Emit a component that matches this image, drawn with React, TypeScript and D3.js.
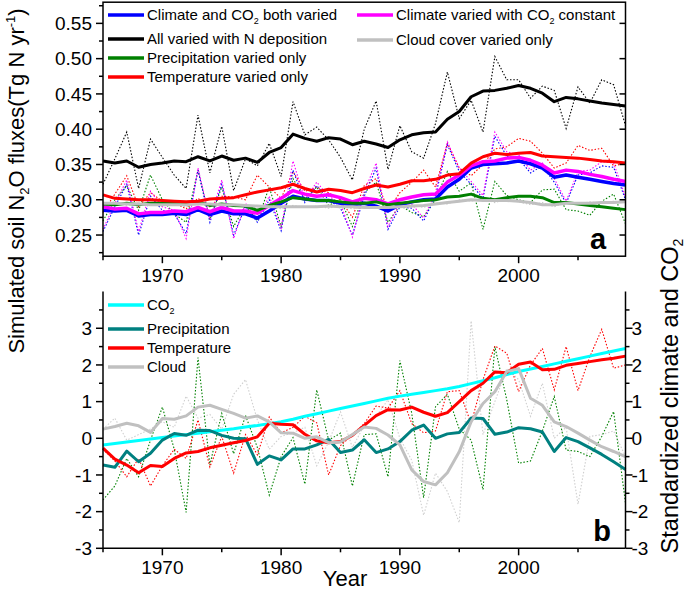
import React from "react";
import * as d3 from "d3";

// ---- data ----
const years = d3.range(1965, 2010);

// panel a: simulated soil N2O fluxes (Tg N / yr), solid = smoothed, dotted = annual
const allNDepSmooth = [0.355,0.352,0.355,0.346,0.350,0.352,0.355,0.354,0.361,0.355,0.362,0.356,0.359,0.353,0.367,0.374,0.393,0.387,0.383,0.388,0.386,0.378,0.383,0.379,0.374,0.385,0.392,0.395,0.396,0.414,0.425,0.446,0.454,0.455,0.458,0.462,0.458,0.451,0.439,0.445,0.443,0.440,0.437,0.435,0.433];
const allNDepAnnual = [0.322,0.358,0.396,0.316,0.386,0.360,0.335,0.316,0.420,0.338,0.404,0.313,0.358,0.348,0.380,0.333,0.439,0.392,0.403,0.385,0.360,0.328,0.400,0.440,0.343,0.405,0.368,0.359,0.408,0.481,0.415,0.441,0.396,0.503,0.470,0.470,0.444,0.461,0.455,0.401,0.460,0.437,0.470,0.463,0.405];
const tempSmooth = [0.307,0.302,0.301,0.300,0.300,0.299,0.298,0.297,0.298,0.301,0.302,0.303,0.307,0.311,0.314,0.317,0.322,0.316,0.311,0.315,0.313,0.310,0.316,0.321,0.318,0.322,0.327,0.327,0.329,0.335,0.337,0.352,0.361,0.366,0.364,0.366,0.367,0.362,0.361,0.360,0.359,0.357,0.355,0.354,0.352];
const tempAnnual = [0.282,0.308,0.334,0.290,0.310,0.298,0.296,0.287,0.302,0.290,0.305,0.304,0.300,0.335,0.318,0.302,0.340,0.312,0.318,0.310,0.300,0.275,0.320,0.330,0.285,0.310,0.325,0.342,0.318,0.380,0.345,0.334,0.350,0.372,0.375,0.387,0.383,0.366,0.345,0.352,0.377,0.370,0.373,0.348,0.352];
const co2ConstSmooth = [0.290,0.287,0.288,0.280,0.282,0.282,0.284,0.283,0.289,0.283,0.289,0.284,0.284,0.281,0.292,0.302,0.313,0.308,0.305,0.307,0.303,0.297,0.302,0.300,0.294,0.300,0.304,0.307,0.308,0.325,0.335,0.348,0.354,0.355,0.359,0.360,0.356,0.349,0.338,0.342,0.340,0.336,0.333,0.329,0.326];
const co2ConstAnnual = [0.258,0.295,0.328,0.255,0.312,0.290,0.285,0.245,0.345,0.272,0.328,0.245,0.295,0.272,0.305,0.260,0.355,0.300,0.325,0.305,0.295,0.247,0.312,0.352,0.262,0.296,0.294,0.274,0.310,0.382,0.345,0.326,0.306,0.396,0.368,0.364,0.342,0.352,0.330,0.298,0.340,0.342,0.354,0.352,0.304];
const bothSmooth = [0.285,0.284,0.285,0.277,0.279,0.279,0.281,0.279,0.286,0.279,0.284,0.280,0.280,0.274,0.284,0.295,0.305,0.301,0.299,0.299,0.295,0.293,0.295,0.291,0.284,0.293,0.297,0.300,0.301,0.318,0.329,0.345,0.350,0.351,0.352,0.355,0.351,0.345,0.332,0.335,0.332,0.329,0.326,0.323,0.321];
const bothAnnual = [0.255,0.290,0.322,0.250,0.305,0.285,0.280,0.252,0.342,0.268,0.322,0.250,0.290,0.268,0.300,0.256,0.342,0.296,0.320,0.300,0.288,0.250,0.305,0.345,0.258,0.290,0.288,0.270,0.305,0.378,0.340,0.322,0.302,0.390,0.362,0.358,0.338,0.348,0.325,0.295,0.335,0.338,0.348,0.346,0.300];
const precipSmooth = [0.294,0.293,0.295,0.293,0.295,0.295,0.296,0.296,0.297,0.292,0.294,0.292,0.291,0.285,0.292,0.297,0.303,0.301,0.299,0.299,0.297,0.295,0.295,0.297,0.293,0.295,0.297,0.299,0.300,0.304,0.305,0.308,0.302,0.300,0.303,0.305,0.305,0.303,0.296,0.296,0.294,0.292,0.290,0.288,0.286];
const precipAnnual = [0.270,0.300,0.320,0.285,0.335,0.300,0.280,0.268,0.342,0.272,0.318,0.262,0.292,0.270,0.318,0.262,0.330,0.300,0.318,0.292,0.300,0.262,0.310,0.325,0.268,0.292,0.282,0.276,0.300,0.340,0.312,0.324,0.258,0.326,0.306,0.300,0.296,0.314,0.315,0.286,0.284,0.278,0.298,0.308,0.266];
const cloudSmooth = [0.295,0.295,0.294,0.294,0.293,0.293,0.293,0.293,0.294,0.294,0.293,0.293,0.292,0.291,0.290,0.290,0.290,0.290,0.290,0.291,0.290,0.290,0.289,0.289,0.289,0.290,0.291,0.292,0.294,0.296,0.298,0.300,0.299,0.299,0.299,0.298,0.296,0.293,0.293,0.295,0.295,0.295,0.296,0.296,0.297];
const cloudAnnual = [0.294,0.297,0.292,0.296,0.293,0.291,0.295,0.290,0.296,0.292,0.294,0.290,0.293,0.288,0.292,0.287,0.292,0.289,0.291,0.288,0.292,0.287,0.290,0.292,0.286,0.290,0.293,0.289,0.296,0.294,0.300,0.298,0.302,0.296,0.301,0.297,0.293,0.296,0.290,0.297,0.294,0.297,0.295,0.298,0.296];

// panel b: standardized climate drivers and CO2
const co2Std = [-0.18,-0.14,-0.10,-0.06,-0.02,0.02,0.06,0.10,0.14,0.18,0.22,0.26,0.31,0.35,0.40,0.45,0.52,0.60,0.67,0.74,0.81,0.88,0.95,1.02,1.09,1.15,1.20,1.25,1.30,1.35,1.41,1.49,1.57,1.65,1.74,1.82,1.89,1.96,2.03,2.10,2.17,2.24,2.31,2.38,2.45];
const precipStd = [-0.73,-0.79,-0.35,-0.64,-0.41,-0.05,0.13,0.08,0.22,0.21,0.08,0.00,-0.01,-0.71,-0.48,-0.59,-0.29,-0.29,-0.18,-0.03,-0.39,-0.32,-0.04,-0.39,-0.29,-0.09,0.22,0.36,0.00,0.12,0.16,0.55,0.54,0.11,0.17,0.29,0.26,0.17,-0.36,0.02,-0.09,-0.26,-0.44,-0.64,-0.85];
const precipStdAnnual = [-1.68,-1.30,-0.55,-1.05,-0.05,0.85,-0.30,-2.02,2.20,-0.73,0.68,-0.42,0.62,-0.25,-1.55,-0.50,0.02,-1.25,1.32,-0.05,0.14,-1.30,0.10,0.12,-1.05,2.12,0.68,-1.62,0.86,1.20,0.25,-0.05,-1.40,2.50,1.05,-0.68,-0.62,0.20,1.14,-0.32,-0.36,-0.50,0.05,0.73,-1.77];
const tempStd = [-0.27,-0.57,-0.73,-0.94,-0.74,-0.77,-0.55,-0.40,-0.36,-0.26,-0.19,-0.12,-0.06,0.04,0.41,0.38,0.37,0.11,-0.07,-0.12,-0.09,0.08,0.35,0.62,0.78,0.77,0.85,0.71,0.60,0.70,1.00,1.30,1.50,1.81,1.79,2.02,2.08,1.87,1.88,1.99,2.04,2.09,2.14,2.18,2.24];
const tempStdAnnual = [-0.30,-0.62,-1.05,-0.55,-1.30,-0.75,-0.30,-0.55,0.50,-0.78,0.05,-0.95,0.10,-0.45,0.58,0.15,0.30,0.60,0.42,-1.00,-0.20,0.10,0.40,0.88,0.82,1.30,0.40,0.15,0.20,1.27,1.30,0.40,1.60,2.52,2.32,1.27,2.00,2.45,1.32,2.50,1.30,2.23,2.97,1.91,2.00];
const cloudStd = [0.25,0.32,0.41,0.34,0.16,0.54,0.52,0.61,0.85,0.90,0.79,0.68,0.55,0.61,0.45,0.15,0.14,0.00,0.04,-0.12,-0.10,0.10,0.31,0.27,0.09,-0.18,-0.86,-1.18,-1.27,-0.94,-0.37,0.45,0.95,1.27,1.82,1.90,1.09,0.90,0.45,0.32,0.14,-0.05,-0.23,-0.36,-0.50];
const cloudStdAnnual = [0.25,0.55,-0.05,0.10,0.25,0.45,0.30,1.15,0.55,0.65,0.25,1.20,1.60,0.50,-0.30,0.05,0.15,0.30,-0.75,-0.10,0.72,-0.25,0.35,0.60,1.05,0.00,-0.60,-2.10,-0.95,-1.45,-2.30,3.20,0.10,1.00,1.90,1.60,0.60,1.50,0.00,0.30,-1.80,0.05,0.10,0.20,-0.50];

const topTicks = [0.25, 0.30, 0.35, 0.40, 0.45, 0.50, 0.55];
const botTicks = [-3, -2, -1, 0, 1, 2, 3];
const yearTicks = [1970, 1980, 1990, 2000];

// ---- layout ----
const W = 685;
const H = 592;
const FONT = "'Liberation Sans', Arial, Helvetica, sans-serif";

const x = d3.scaleLinear().domain([1965, 2009]).range([103, 625.5]);
const yTop = d3.scaleLinear().domain([0.22, 0.58]).range([256.2, 2.2]);
const yBot = d3.scaleLinear().domain([-3, 4]).range([548.3, 291.6]);

const makeLine = (y: d3.ScaleLinear<number, number>) =>
  d3.line<number>().x((_, i) => x(years[i])).y(d => y(d));

const topLine = makeLine(yTop);
const botLine = makeLine(yBot);

const topDotted = [
  { v: cloudAnnual, c: "#c8c8c8" },
  { v: precipAnnual, c: "#008000" },
  { v: tempAnnual, c: "#ff0000" },
  { v: bothAnnual, c: "#0000ff" },
  { v: co2ConstAnnual, c: "#ff00ff" },
  { v: allNDepAnnual, c: "#000000" },
];
const topSolid = [
  { v: bothSmooth, c: "#0000ff", w: 3.5 },
  { v: co2ConstSmooth, c: "#ff00ff", w: 3.5 },
  { v: precipSmooth, c: "#008000", w: 3 },
  { v: cloudSmooth, c: "#c0c0c0", w: 3 },
  { v: tempSmooth, c: "#ff0000", w: 3 },
  { v: allNDepSmooth, c: "#000000", w: 3 },
];
const botDotted = [
  { v: cloudStdAnnual, c: "#cfcfcf" },
  { v: precipStdAnnual, c: "#008000" },
  { v: tempStdAnnual, c: "#ff0000" },
];
const botSolid = [
  { v: co2Std, c: "#00ffff", w: 3 },
  { v: precipStd, c: "#008080", w: 3 },
  { v: tempStd, c: "#ff0000", w: 3 },
  { v: cloudStd, c: "#c0c0c0", w: 3 },
];

const topLegend = [
  { c: "#0000ff", label: "Climate and CO", sub: "2", rest: " both varied", x0: 108, y: 15 },
  { c: "#000000", label: "All varied with N deposition", x0: 108, y: 39 },
  { c: "#008000", label: "Precipitation varied only", x0: 108, y: 58 },
  { c: "#ff0000", label: "Temperature varied only", x0: 108, y: 77 },
  { c: "#ff00ff", label: "Climate varied with CO", sub: "2", rest: " constant", x0: 357, y: 15 },
  { c: "#c0c0c0", label: "Cloud cover varied only", x0: 357, y: 40 },
];
const botLegend = [
  { c: "#00ffff", label: "CO", sub: "2", rest: "", x0: 108, y: 305 },
  { c: "#008080", label: "Precipitation", x0: 108, y: 329 },
  { c: "#ff0000", label: "Temperature", x0: 108, y: 348 },
  { c: "#c0c0c0", label: "Cloud", x0: 108, y: 367 },
];

function Legend({ items }: { items: any[] }) {
  return (
    <g fontSize={15} fontFamily={FONT}>
      {items.map((d, i) => (
        <g key={i}>
          <line x1={d.x0} x2={d.x0 + 36} y1={d.y} y2={d.y} stroke={d.c} strokeWidth={3.5} />
          <text x={d.x0 + 39} y={d.y} dy="0.36em">
            {d.label}
            {d.sub && <tspan fontSize={9} dy="4">{d.sub}</tspan>}
            {d.sub && <tspan dy="-4">{d.rest}</tspan>}
          </text>
        </g>
      ))}
    </g>
  );
}

function XAxis({ y0 }: { y0: number }) {
  const minors = [1965, 1975, 1985, 1995, 2005];
  return (
    <g fontFamily={FONT} fontSize={19}>
      {yearTicks.map(t => (
        <g key={t}>
          <line x1={x(t)} x2={x(t)} y1={y0} y2={y0 + 7} stroke="#000" strokeWidth={1.5} />
          <text x={x(t)} y={y0 + 26} textAnchor="middle">{t}</text>
        </g>
      ))}
      {minors.map(t => (
        <line key={t} x1={x(t)} x2={x(t)} y1={y0} y2={y0 + 4} stroke="#000" strokeWidth={1.5} />
      ))}
    </g>
  );
}

export default function App() {
  const [x0, x1] = x.range();
  const topMinor = d3.range(0.225, 0.58, 0.05);
  const botMinor = d3.range(-2.5, 4, 1);
  return (
    <svg width={W} height={H} style={{ position: "absolute", left: 0, top: 0, background: "#fff" }}>
      <rect width={W} height={H} fill="#fff" />

      {/* ---- panel a ---- */}
      <g fill="none">
        {topDotted.map((s, i) => (
          <path key={i} d={topLine(s.v) || ""} stroke={s.c} strokeWidth={1.1} strokeDasharray="1.5,1.8" />
        ))}
        {topSolid.map((s, i) => (
          <path key={i} d={topLine(s.v) || ""} stroke={s.c} strokeWidth={s.w} strokeLinejoin="round" />
        ))}
      </g>
      <rect x={x0} y={yTop(0.58)} width={x1 - x0} height={yTop(0.22) - yTop(0.58)} fill="none" stroke="#000" strokeWidth={1.5} />
      <g fontFamily={FONT} fontSize={19}>
        {topTicks.map(t => (
          <g key={t}>
            <line x1={x0 - 7} x2={x0} y1={yTop(t)} y2={yTop(t)} stroke="#000" strokeWidth={1.5} />
            <line x1={x1 - 6} x2={x1} y1={yTop(t)} y2={yTop(t)} stroke="#000" strokeWidth={1.5} />
            <text x={x0 - 11} y={yTop(t)} dy="0.36em" textAnchor="end">{t.toFixed(2)}</text>
          </g>
        ))}
        {topMinor.map(t => (
          <line key={t} x1={x0 - 4} x2={x0} y1={yTop(t)} y2={yTop(t)} stroke="#000" strokeWidth={1.5} />
        ))}
      </g>
      <XAxis y0={yTop(0.22)} />
      <Legend items={topLegend} />
      <text x={598} y={249} fontFamily={FONT} fontSize={29} fontWeight="bold" textAnchor="middle">a</text>

      {/* ---- panel b ---- */}
      <g fill="none">
        {botDotted.map((s, i) => (
          <path key={i} d={botLine(s.v) || ""} stroke={s.c} strokeWidth={1.1} strokeDasharray="1.5,1.8" />
        ))}
        {botSolid.map((s, i) => (
          <path key={i} d={botLine(s.v) || ""} stroke={s.c} strokeWidth={s.w} strokeLinejoin="round" />
        ))}
      </g>
      <g stroke="#000" strokeWidth={1.5}>
        <line x1={x0} x2={x0} y1={yBot(4)} y2={yBot(-3)} />
        <line x1={x1} x2={x1} y1={yBot(4)} y2={yBot(-3)} />
        <line x1={x0} x2={x1} y1={yBot(-3)} y2={yBot(-3)} />
      </g>
      <g fontFamily={FONT} fontSize={19}>
        {botTicks.map(t => (
          <g key={t}>
            <line x1={x0 - 7} x2={x0} y1={yBot(t)} y2={yBot(t)} stroke="#000" strokeWidth={1.5} />
            <line x1={x1} x2={x1 + 7} y1={yBot(t)} y2={yBot(t)} stroke="#000" strokeWidth={1.5} />
            <text x={x0 - 11} y={yBot(t)} dy="0.36em" textAnchor="end">{t}</text>
            <text x={x1 + 6} y={yBot(t)} dy="0.36em" textAnchor="start">{t}</text>
          </g>
        ))}
        {botMinor.map(t => (
          <g key={t}>
            <line x1={x0 - 4} x2={x0} y1={yBot(t)} y2={yBot(t)} stroke="#000" strokeWidth={1.5} />
            <line x1={x1} x2={x1 + 4} y1={yBot(t)} y2={yBot(t)} stroke="#000" strokeWidth={1.5} />
          </g>
        ))}
      </g>
      <XAxis y0={yBot(-3)} />
      <Legend items={botLegend} />
      <text x={602} y={541} fontFamily={FONT} fontSize={29} fontWeight="bold" textAnchor="middle">b</text>

      {/* ---- axis titles ---- */}
      <g fontFamily={FONT} fontSize={22}>
        <text transform="translate(23.5,181) rotate(-90)" textAnchor="middle">
          Simulated soil N<tspan fontSize={13} dy="5">2</tspan>
          <tspan dy="-5">O fluxes(Tg N yr</tspan>
          <tspan fontSize={13} dy="-9">-1</tspan>
          <tspan dy="9">)</tspan>
        </text>
        <text transform="translate(678,396) rotate(-90)" textAnchor="middle" fontSize={23.5}>
          Standardized climate and CO<tspan fontSize={14} dy="5">2</tspan>
        </text>
        <text x={345} y={586} textAnchor="middle">Year</text>
      </g>
    </svg>
  );
}
